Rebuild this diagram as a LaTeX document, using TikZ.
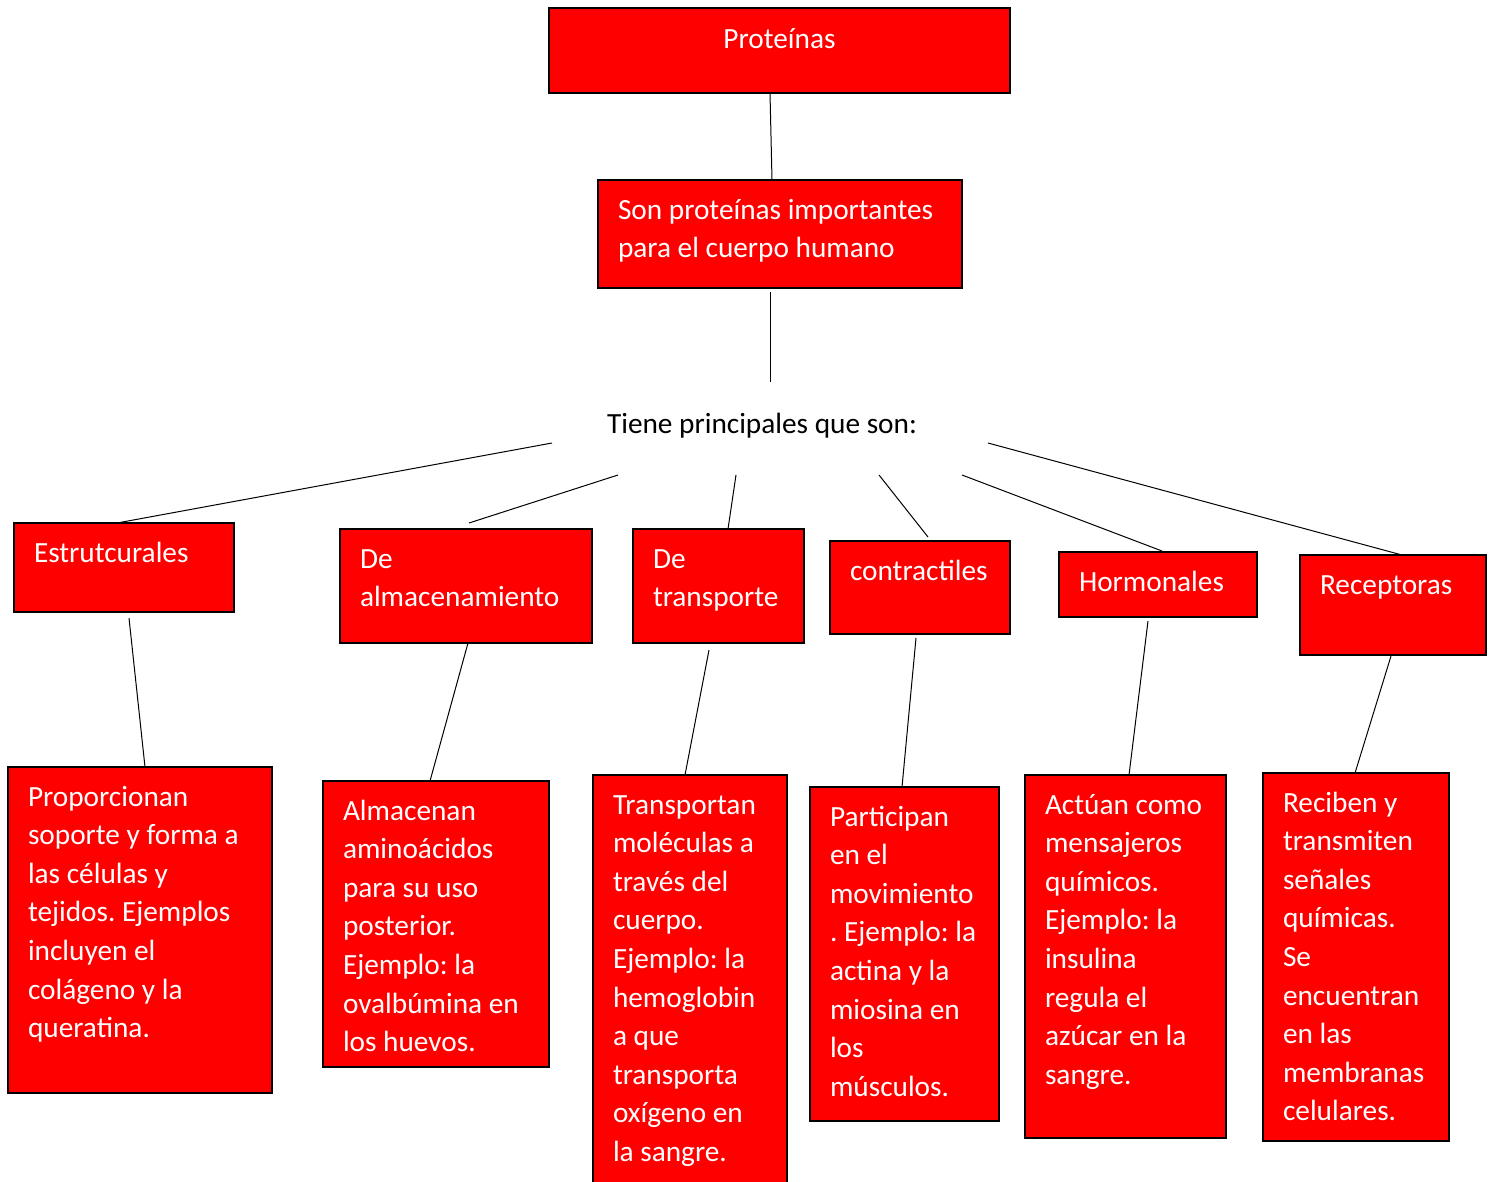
\documentclass[tikz,border=0pt]{standalone}
\usepackage{fontspec}
\setmainfont{Carlito}
\frenchspacing
\definecolor{rojo}{HTML}{FF0000}
% text of a box: width, height, lines
\newcommand{\cajatxt}[3]{\parbox[t][#2pt][t]{#1pt}{\rightskip=-60pt plus 1fil\rule{0pt}{39pt}#3}}
\begin{document}
\begin{tikzpicture}[x=1pt, y=-1pt,
    caja/.style={draw=black, line width=1.2pt, fill=rojo, text=white, anchor=north west,
                 inner xsep=20pt, inner ysep=0pt, outer sep=0pt,
                 font=\fontsize{29.3}{38.6}\selectfont},
    linea/.style={line width=1pt}]

  \useasboundingbox (0,0) rectangle (1493,1181);

	%top
  \node[caja] (prot) at (549,8) {\parbox[t][85pt][t]{421pt}{\centering\rule{0pt}{40pt}Proteínas}};
  \node[caja] (son) at (598,180) {\cajatxt{324}{108}{Son proteínas importantes\\para el cuerpo humano}};
  \node[font=\fontsize{29.3}{38.6}\selectfont, anchor=base] (tiene) at (762,433) {Tiene principales que son:};

	%types
    \foreach \name/\x/\y/\w/\h/\txt in { est/14/523/180/89/{Estrutcurales},
        alm/340/529/212/114/{De\\almacenamiento}, tra/633/529/131/114/{De\\transporte},
        con/830/541/140/93/{contractiles}, hor/1059/552/158/65/{Hormonales},
        rec/1300/555/146/100/{Receptoras} }{
         \node[caja] (\name) at (\x,\y) {\cajatxt{\w}{\h}{\txt}};
    }

	%descriptions
    \foreach \name/\x/\y/\w/\h/\txt in {
        est2/8/767/224/326/{Proporcionan\\soporte y forma a\\las células y\\tejidos. Ejemplos\\incluyen el\\colágeno y la\\queratina.},
        alm2/323/781/186/286/{Almacenan\\aminoácidos\\para su uso\\posterior.\\Ejemplo: la\\ovalbúmina en\\los huevos.},
        tra2/593/775/154/420/{Transportan\\moléculas a\\través del\\cuerpo.\\Ejemplo: la\\hemoglobin\\a que\\transporta\\oxígeno en\\la sangre.},
        con2/810/787/149/334/{Participan\\en el\\movimiento\\. Ejemplo: la\\actina y la\\miosina en\\los\\músculos.},
        hor2/1025/775/161/363/{Actúan como\\mensajeros\\químicos.\\Ejemplo: la\\insulina\\regula el\\azúcar en la\\sangre.},
        rec2/1263/773/146/368/{Reciben y\\transmiten\\señales\\químicas.\\Se\\encuentran\\en las\\membranas\\celulares.} }{
         \node[caja] (\name) at (\x,\y) {\cajatxt{\w}{\h}{\txt}};
    }

	%free ends round the middle text
  \coordinate (t0) at (770,382);
  \coordinate (t1) at (552,443);
  \coordinate (t2) at (618,475);
  \coordinate (t3) at (736,475);
  \coordinate (t4) at (879,475);
  \coordinate (t5) at (962,475);
  \coordinate (t6) at (988,443);

	%lines
  \draw[linea] ([xshift=-9.5pt]prot.south) -- ([xshift=-8pt]son.north);
  \draw[linea] ([xshift=-10pt,yshift=-4pt]son.south) -- (t0);
  \draw[linea] (t1) -- ([xshift=-7pt]est.north);
  \draw[linea] (t2) -- ([xshift=3pt,yshift=6pt]alm.north);
  \draw[linea] (t3) -- ([xshift=9.5pt]tra.north);
  \draw[linea] (t4) -- ([xshift=8pt,yshift=4pt]con.north);
  \draw[linea] (t5) -- ([xshift=4pt,yshift=1pt]hor.north);
  \draw[linea] (t6) -- ([xshift=9pt]rec.north);

    \foreach \a/\b/\sa/\sb/\dy in { est/est2/5/5/-6, alm/alm2/2/-6/0, tra/tra2/-9.5/-5/-7,
        con/con2/-4/-2.5/-4, hor/hor2/-10/3.5/-4, rec/rec2/-2/-1/-1 }{
         \draw[linea] ([xshift=\sa pt,yshift=\dy pt]\a.south) -- ([xshift=\sb pt]\b.north);
    }

\end{tikzpicture}
\end{document}
